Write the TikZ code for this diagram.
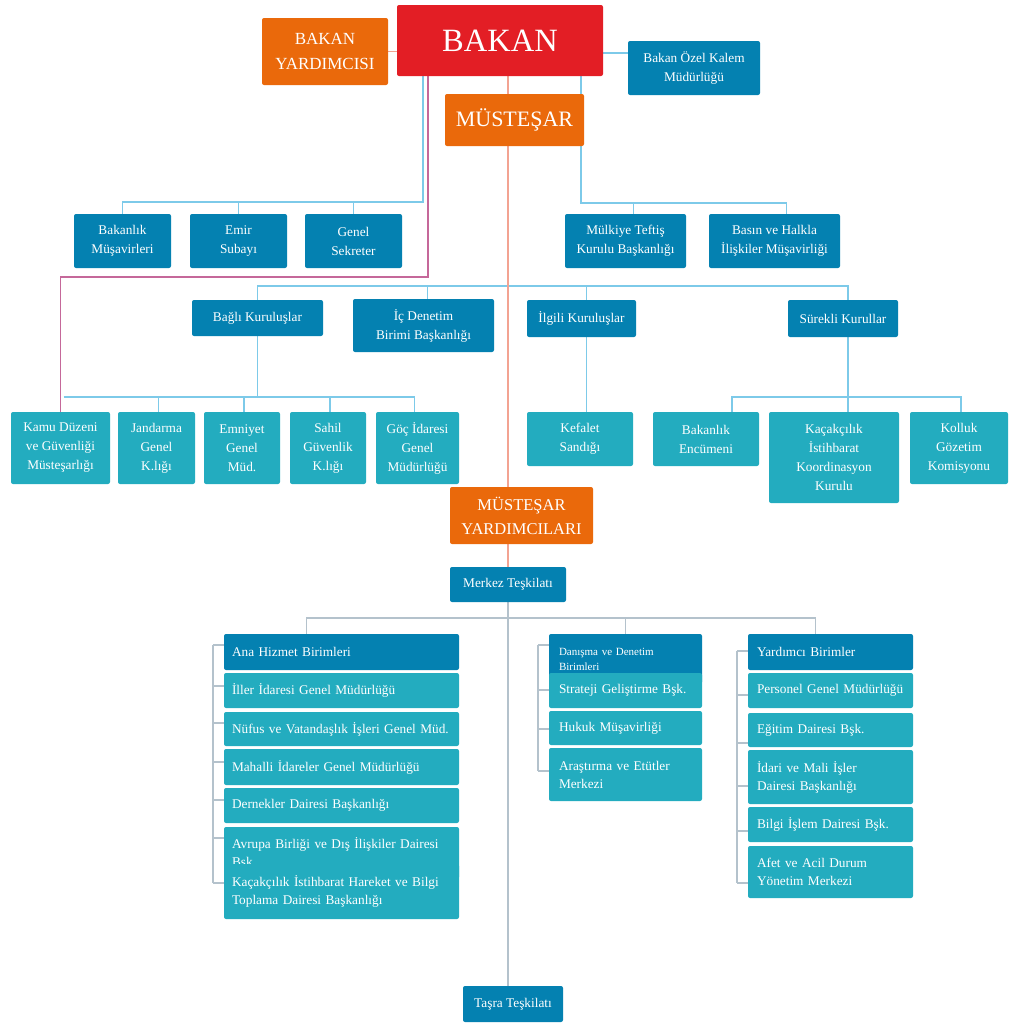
\documentclass[tikz,border=0pt]{standalone}
\usepackage{fontspec}
\setmainfont{Liberation Serif}
\usepackage{xcolor}
\usepackage{tikz}
\definecolor{kirmizi}{HTML}{E31E25}
\definecolor{turuncu}{HTML}{EA690B}
\definecolor{lacivert}{HTML}{0481B1}
\definecolor{camgobegi}{HTML}{23ACBF}
\definecolor{hatmavi}{HTML}{7DCAE9}
\definecolor{hatpembe}{HTML}{C5689A}
\definecolor{hatsomon}{HTML}{F3A392}
\definecolor{hatgri}{HTML}{B4C2CC}
\pgfdeclarelayer{arka}
\pgfsetlayers{arka,main}

\begin{document}
\begin{tikzpicture}[x=1pt, y=-1pt,
  kutu/.style={fill=lacivert, text=white, rounded corners=2pt, align=center, inner sep=0pt,
    font=\fontsize{13.3}{19}\selectfont},
  acik/.style={kutu, fill=camgobegi},
  buyuk/.style={kutu, fill=turuncu},
  liste/.style={kutu, fill=camgobegi, align=left, inner xsep=10pt, text width=#1,
    font=\fontsize{13.3}{18}\selectfont},
  mavi/.style={draw=hatmavi, line width=1.8pt},
  pembe/.style={draw=hatpembe, line width=1.8pt},
  somon/.style={draw=hatsomon, line width=1.8pt},
  gri/.style={draw=hatgri, line width=1.8pt}]
  \useasboundingbox (0,0) rectangle (1011,1023);
  % Bakan
  \node[kutu, fill=kirmizi, minimum width=206pt, minimum height=71pt,
    font=\fontsize{32.5}{36}\selectfont] (bakan) at (500,40.5) {BAKAN};
  \node[buyuk, minimum width=126pt, minimum height=67pt,
    font=\fontsize{17}{25}\selectfont] (byard) at (325,51.5) {BAKAN\\YARDIMCISI};
  \node[kutu, minimum width=132pt, minimum height=54pt] (ozel) at (694,68) {Bakan Özel Kalem\\Müdürlüğü};
  \node[buyuk, minimum width=139pt, minimum height=52pt,
    font=\fontsize{22}{24}\selectfont] (mus) at (514.5,120) {MÜSTEŞAR};
  % Müşavirler
  \node[kutu, minimum width=97pt, minimum height=54pt] (bmus) at (122.5,241) {Bakanlık\\Müşavirleri};
  \node[kutu, minimum width=97pt, minimum height=54pt] (emir) at (238.5,241) {Emir\\Subayı};
  \node[kutu, minimum width=97pt, minimum height=54pt] (gsek) at (353.5,241) {Genel\\Sekreter};
  \node[kutu, minimum width=121pt, minimum height=54pt] (mulk) at (625.5,241) {Mülkiye Teftiş\\Kurulu Başkanlığı};
  \node[kutu, minimum width=131pt, minimum height=54pt] (basin) at (774.5,241) {Basın ve Halkla\\İlişkiler Müşavirliği};
  % Kuruluşlar
  \node[kutu, minimum width=131pt, minimum height=36pt] (bagli) at (257.5,318) {Bağlı Kuruluşlar};
  \node[kutu, minimum width=141pt, minimum height=53pt] (icden) at (423.5,325.5) {İç Denetim\\Birimi Başkanlığı};
  \node[kutu, minimum width=109pt, minimum height=37pt] (ilgili) at (581.5,318.5) {İlgili Kuruluşlar};
  \node[kutu, minimum width=110pt, minimum height=37pt] (surekli) at (843,318.5) {Sürekli Kurullar};
  \node[acik, minimum width=99pt, minimum height=72pt] (kamu) at (60.5,448) {Kamu Düzeni\\ve Güvenliği\\Müsteşarlığı};
  \node[acik, minimum width=77pt, minimum height=72pt] (jand) at (156.5,448) {Jandarma\\Genel\\K.lığı};
  \node[acik, minimum width=76pt, minimum height=72pt] (emn) at (242,448) {Emniyet\\Genel\\Müd.};
  \node[acik, minimum width=76pt, minimum height=72pt] (sahil) at (328,448) {Sahil\\Güvenlik\\K.lığı};
  \node[acik, minimum width=83pt, minimum height=72pt] (goc) at (417.5,448) {Göç İdaresi\\Genel\\Müdürlüğü};
  \node[acik, minimum width=106pt, minimum height=54pt] (kefalet) at (580,439) {Kefalet\\Sandığı};
  \node[acik, minimum width=106pt, minimum height=54pt] (encumen) at (706,439) {Bakanlık\\Encümeni};
  \node[acik, minimum width=130pt, minimum height=91pt] (kacak) at (834,457.5) {Kaçakçılık\\İstihbarat\\Koordinasyon\\Kurulu};
  \node[acik, minimum width=98pt, minimum height=72pt] (kolluk) at (959,448) {Kolluk\\Gözetim\\Komisyonu};
  % Teşkilat
  \node[buyuk, minimum width=143pt, minimum height=57pt,
    font=\fontsize{16.5}{24}\selectfont] (musyard) at (521.5,515.5) {MÜSTEŞAR\\YARDIMCILARI};
  \node[kutu, minimum width=116pt, minimum height=35pt] (merkez) at (508,584.5) {Merkez Teşkilatı};
  \node[kutu, minimum width=100pt, minimum height=36pt] (tasra) at (513,1004) {Taşra Teşkilatı};
  % Ana hizmet
  \node[liste=219pt, inner xsep=8pt, fill=lacivert, minimum height=36pt] (ana) at (341.5,652) {Ana Hizmet Birimleri};
  \node[liste=219pt, inner xsep=8pt, minimum height=35pt] (iller) at (341.5,690.5) {İller İdaresi Genel Müdürlüğü};
  \node[liste=219pt, inner xsep=8pt, minimum height=34pt] (nufus) at (341.5,729) {Nüfus ve Vatandaşlık İşleri Genel Müd.};
  \node[liste=219pt, inner xsep=8pt, minimum height=36pt] (mahalli) at (341.5,767) {Mahalli İdareler Genel Müdürlüğü};
  \node[liste=219pt, inner xsep=8pt, minimum height=35pt] (dernek) at (341.5,805.5) {Dernekler Dairesi Başkanlığı};
  \node[liste=219pt, inner xsep=8pt, minimum height=52pt] (avrupa) at (341.5,853) {Avrupa Birliği ve Dış İlişkiler Dairesi\\Bşk.};
  \node[liste=219pt, inner xsep=8pt, minimum height=55pt] (kacbilgi) at (341.5,891.5) {Kaçakçılık İstihbarat Hareket ve Bilgi\\Toplama Dairesi Başkanlığı};
  % Danışma
  \node[liste=133pt, fill=lacivert, minimum height=50pt,
    font=\fontsize{11}{15}\selectfont] (danisma) at (625.5,659) {Danışma ve Denetim\\Birimleri};
  \node[liste=133pt, minimum height=35pt] (strateji) at (625.5,690.5) {Strateji Geliştirme Bşk.};
  \node[liste=133pt, minimum height=34pt] (hukuk) at (625.5,728) {Hukuk Müşavirliği};
  \node[liste=133pt, minimum height=53pt] (arastirma) at (625.5,774.5) {Araştırma ve Etütler\\Merkezi};
  % Yardımcı
  \node[liste=147pt, inner xsep=9pt, fill=lacivert, minimum height=36pt] (yard) at (830.5,652) {Yardımcı Birimler};
  \node[liste=147pt, inner xsep=9pt, minimum height=35pt] (personel) at (830.5,690.5) {Personel Genel Müdürlüğü};
  \node[liste=147pt, inner xsep=9pt, minimum height=34pt] (egitim) at (830.5,730) {Eğitim Dairesi Bşk.};
  \node[liste=147pt, inner xsep=9pt, minimum height=54pt] (idari) at (830.5,777) {İdari ve Mali İşler\\Dairesi Başkanlığı};
  \node[liste=147pt, inner xsep=9pt, minimum height=35pt] (bilgi) at (830.5,824.5) {Bilgi İşlem Dairesi Bşk.};
  \node[liste=147pt, inner xsep=9pt, minimum height=52pt] (afet) at (830.5,872) {Afet ve Acil Durum\\Yönetim Merkezi};

  \begin{pgfonlayer}{arka}
  % Hatlar
  \draw[somon] (byard.east) -- (byard.east -| bakan.west);
  \draw[mavi] ([yshift=-12pt]ozel.north west) -- ([yshift=-12pt]ozel.north west -| bakan.east);
  \coordinate (k1) at (423,202);
  \draw[mavi] (k1 |- bakan.south) -- (k1) -| (bmus.north);
  \draw[mavi] (k1) -| (emir.north);
  \draw[mavi] (k1) -| (gsek.north);
  \coordinate (k3) at (581,203);
  \draw[mavi] (k3 |- bakan.south) -- (k3) -| ([xshift=8pt]mulk.north);
  \draw[mavi] (k3) -| ([xshift=12pt]basin.north);
  \coordinate (k4) at (508,286);
  \draw[mavi] (bagli.north) |- (k4) -| ([xshift=5pt]surekli.north);
  \draw[mavi] ([xshift=4pt]icden.north) -- ([xshift=4pt]icden.north |- k4);
  \draw[mavi] ([xshift=5pt]ilgili.north) -- ([xshift=5pt]ilgili.north |- k4);
  \coordinate (k2) at (428,277);
  \draw[pembe] (k2 |- bakan.south) -- (k2) -| (kamu.north);
  \coordinate (k5) at (257,397);
  \draw[mavi] (bagli.south) -- (bagli.south |- k5);
  \draw[mavi] ([xshift=3pt]kamu.north |- k5) -- ([xshift=-3pt]goc.north |- k5) -- ([xshift=-3pt]goc.north);
  \foreach \n in {jand,emn,sahil}
    \draw[mavi] ([xshift=2pt]\n.north) -- ([xshift=2pt]\n.north |- k5);
  \draw[mavi] ([xshift=5pt]ilgili.south) -- ([xshift=5pt]ilgili.south |- kefalet.north);
  \coordinate (k6) at (848,397);
  \draw[mavi] ([xshift=5pt]surekli.south) -- ([xshift=5pt]surekli.south |- kacak.north);
  \draw[mavi] ([xshift=26pt]encumen.north) |- (k6) -| ([xshift=2pt]kolluk.north);
  \coordinate (omurga) at (508,0);
  \draw[somon] (bakan.south -| omurga) -- (mus.north -| omurga);
  \draw[somon] (mus.south -| omurga) -- (musyard.north -| omurga);
  \draw[somon] (musyard.south -| omurga) -- (merkez.north);
  \coordinate (k7) at (508,618);
  \draw[gri] (merkez.south) -- (merkez.south |- tasra.north);
  \draw[gri] ([xshift=-35pt]ana.north) |- (k7) -| ([xshift=-15pt]yard.north);
  \draw[gri] (danisma.north) -- (danisma.north |- k7);
  % Listeler
  \foreach \n/\y in {ana/645, iller/686, nufus/723, mahalli/762, dernek/800, avrupa/838, kacbilgi/883}
    \draw[gri] (\n.west |- 0,\y) -- ++(-11,0);
  \draw[gri] ([xshift=-11pt]ana.west |- 0,645) -- ([xshift=-11pt]kacbilgi.west |- 0,883);
  \foreach \n/\y in {danisma/645, strateji/690, hukuk/729, arastirma/771}
    \draw[gri] (\n.west |- 0,\y) -- ++(-11,0);
  \draw[gri] ([xshift=-11pt]danisma.west |- 0,645) -- ([xshift=-11pt]arastirma.west |- 0,771);
  \foreach \n/\y in {yard/651, personel/695, egitim/743, idari/786, bilgi/831, afet/883}
    \draw[gri] (\n.west |- 0,\y) -- ++(-11,0);
  \draw[gri] ([xshift=-11pt]yard.west |- 0,651) -- ([xshift=-11pt]afet.west |- 0,883);
  \end{pgfonlayer}
\end{tikzpicture}
\end{document}
